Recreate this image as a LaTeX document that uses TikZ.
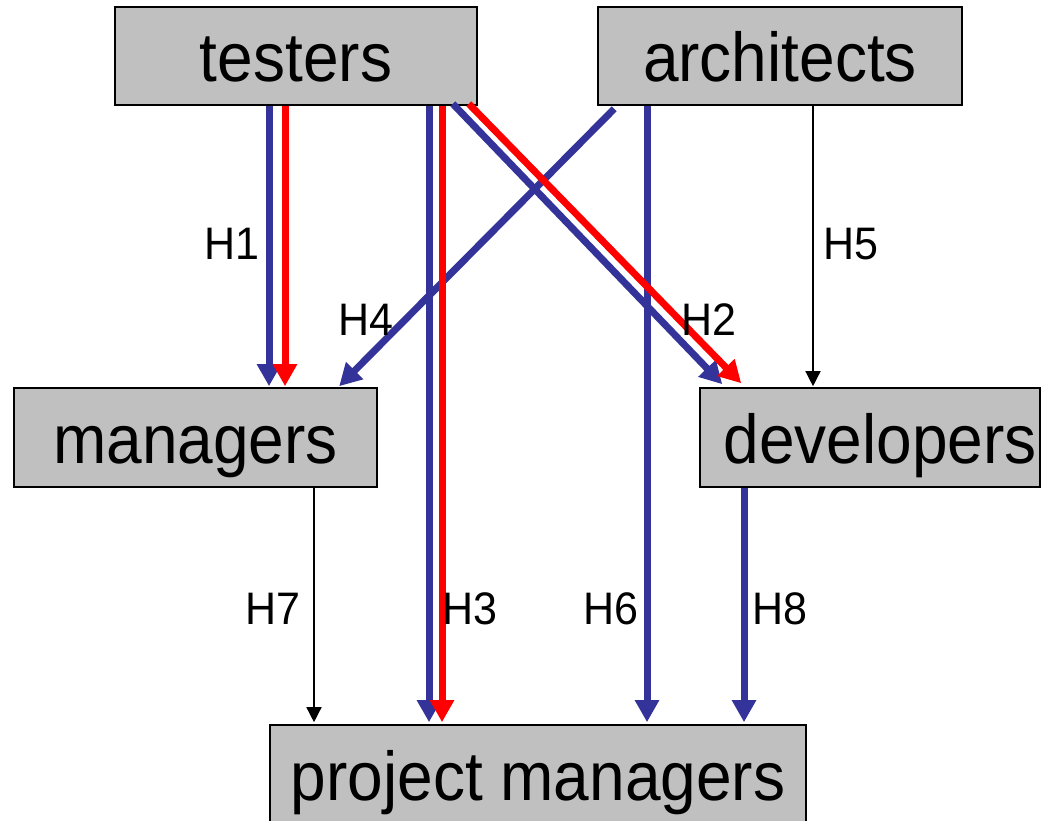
\documentclass[tikz,border=0pt]{standalone}
\usepackage{fontspec}
\setmainfont{Liberation Sans}
\usepackage{graphicx}
\usetikzlibrary{arrows.meta,calc}
\definecolor{boxgray}{HTML}{C0C0C0}
\definecolor{arrblue}{HTML}{333399}
\definecolor{arrred}{HTML}{FF0000}
\newcommand{\bigtxt}[1]{\fontsize{64}{70}\selectfont\scalebox{1}[1.08]{#1}}
\newcommand{\lbltxt}[1]{\fontsize{43}{48}\selectfont\scalebox{1}[1.06]{#1}}
\tikzset{
  rolebox/.style={draw=black, line width=1.6pt, fill=boxgray, inner sep=0pt,
    text height=56pt, text depth=4pt, minimum height=98pt},
  thickblue/.style={draw=arrblue, line width=7pt, -{Triangle[length=22pt,width=23pt]}},
  thickred/.style={draw=arrred, line width=7pt, -{Triangle[length=22pt,width=23pt]}},
  thinblack/.style={draw=black, line width=1.4pt, -{Triangle[length=15pt,width=15pt]}},
  hlabel/.style={anchor=base, inner sep=0pt}
}
\begin{document}
\begin{tikzpicture}[x=1pt,y=-1pt]
\useasboundingbox (0,0) rectangle (1046,821);
\fill[white] (0,0) rectangle (1046,821);
\node[rolebox, minimum width=362pt] (testers) at (296,56) {\bigtxt{testers}};
\node[rolebox, minimum width=364pt] (architects) at (780,56) {\bigtxt{architects}};
\node[rolebox, minimum width=363pt, minimum height=99pt] (managers) at (195.5,437.5) {\bigtxt{managers}};
\node[rolebox, minimum width=340pt, minimum height=99pt, text width=340pt, align=center] (developers) at (870,437.5) {\hspace*{20pt}\bigtxt{developers}};
\node[rolebox, minimum width=536pt] (pm) at (538,774) {\bigtxt{project managers}};

% blue arrows from testers
\draw[thickblue] (testers.south -| 269,0) -- ($(managers.north -| 269,0)+(0,-1)$);
\draw[thickblue] (testers.south -| 429,0) -- ($(pm.north -| 429,0)+(0,-2)$);
\draw[thickblue] ($(testers.south east)+(-25,-2)$) -- ($(developers.north west)+(23,-3)$);
% H4
\draw[thickblue] ($(architects.south west)+(17,3)$) -- ($(managers.north west)+(326,-1)$);
% H6, H8
\draw[thickblue] (architects.south -| 647,0) -- ($(pm.north -| 647,0)+(0,-2)$);
\draw[thickblue] (developers.south -| 744,0) -- ($(pm.north -| 744,0)+(0,-2)$);
% red arrows
\draw[thickred] (testers.south -| 285,0) -- ($(managers.north -| 285,0)+(0,-1)$);
\draw[thickred] (testers.south -| 442,0) -- ($(pm.north -| 442,0)+(0,-2)$);
\draw[thickred] ($(testers.south east)+(-9,-2)$) -- ($(developers.north west)+(42,-4)$);
% thin arrows
\draw[thinblack] (architects.south -| 813,0) -- ($(developers.north -| 813,0)+(0,-1)$);
\draw[thinblack] (managers.south -| 314,0) -- ($(pm.north -| 314,0)+(0,-2)$);

% labels
\node[hlabel] (h1) at (232,259) {\lbltxt{H1}};
\node[hlabel] (h5) at (851,259) {\lbltxt{H5}};
\node[hlabel] (h4) at (366,335) {\lbltxt{H4}};
\node[hlabel] (h2) at (709,335) {\lbltxt{H2}};
\node[hlabel] (h7) at (273,624) {\lbltxt{H7}};
\node[hlabel] (h3) at (470,624) {\lbltxt{H3}};
\node[hlabel] (h6) at (611,624) {\lbltxt{H6}};
\node[hlabel] (h8) at (780,624) {\lbltxt{H8}};
\end{tikzpicture}
\end{document}
